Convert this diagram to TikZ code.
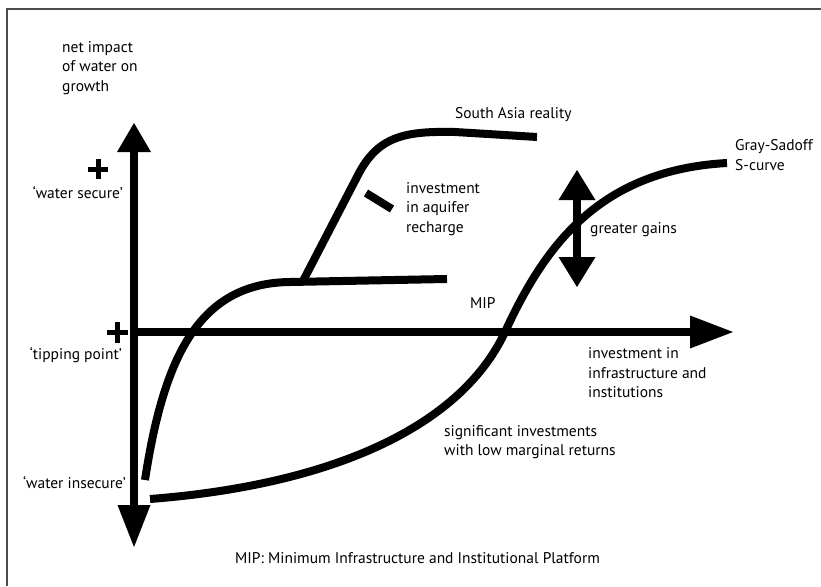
\documentclass[tikz,border=0pt]{standalone}
\usepackage{fontspec}
\setmainfont{PT Sans}
\usetikzlibrary{arrows.meta,positioning}

\tikzset{
  curve/.style={line width=8pt},
  axis/.style={line width=8pt},
  lbl/.style={inner sep=0pt, align=left, font=\fontsize{15.5}{19.5}\selectfont},
  plus/.style={line width=5pt},
}

\begin{document}
\begin{tikzpicture}[x=1pt, y=-1pt]
\useasboundingbox (0,0) rectangle (821,586);
% frame
\draw[line width=1.5pt, black!70] (7,586) -- (7,9) -- (821,9);

% axes
\coordinate (O) at (134,332);
\coordinate (ytop) at (134,123);
\coordinate (ybot) at (134,547);
\coordinate (xend) at (733,332);
\draw[axis, {Triangle[length=42pt,width=33pt,line width=0pt]}-{Triangle[length=29pt,width=34pt,line width=0pt]}] (ybot) -- (ytop);
\draw[axis, -{Triangle[length=43pt,width=33pt,line width=0pt]}] (O) -- (xend);

% plus marks
\draw[plus] (88,169) -- (108,169) (98,159) -- (98,179);
\draw[plus] (107,332) -- (128,332) (117,322) -- (117,343);

% South Asia curve
\coordinate (sa0) at (145,480);
\coordinate (sa1) at (290,282);
\coordinate (sa2) at (447,279);
\draw[curve] (sa0) .. controls (164,355) and (200,283) .. (sa1) -- (sa2);
\coordinate (br0) at (303,281);
\coordinate (br1) at (358,175);
\coordinate (br2) at (455,132);
\coordinate (br3) at (537,137);
\draw[curve] (br0) -- (br1) .. controls (378,136) and (405,131) .. (br2) -- (br3);
\draw[curve] (366,193) -- (392,209);

% Gray-Sadoff S-curve
\coordinate (gs0) at (150,499);
\coordinate (gs1) at (505,332);
\coordinate (gs2) at (727,163);
\draw[curve] (gs0) .. controls (330,485) and (460,428) .. (gs1)
  .. controls (545,245) and (600,170) .. (gs2);

% greater gains arrow
\coordinate (gg1) at (577,170);
\coordinate (gg2) at (577,287);
\draw[axis, {Triangle[length=30pt,width=37pt,line width=0pt]}-{Triangle[length=30pt,width=37pt,line width=0pt]}] (gg2) -- (gg1);

% labels
\node[lbl, anchor=west] (yname) at (62,68) {net impact\\of water on\\growth};
\node[lbl, anchor=east] (secure) at (123,193) {‘water secure’};
\node[lbl, anchor=east] (tipping) at (122,355) {‘tipping point’};
\node[lbl, anchor=east] (insecure) at (126,483) {‘water insecure’};
\node[lbl, anchor=west] (southasia) at (455,115) {South Asia reality};
\node[lbl, anchor=west] (grays) at (735,155) {Gray-Sadoff\\S-curve};
\node[lbl, anchor=west] (aquifer) at (406,209) {investment\\in aquifer\\recharge};
\node[lbl, anchor=west] (gains) at (590,230) {greater gains};
\node[lbl, anchor=west] (mip) at (470,303) {MIP};
\node[lbl, anchor=west] (xname) at (588,373) {investment in\\infrastructure and\\institutions};
\node[lbl, anchor=west] (lowret) at (444,442) {significant investments\\with low marginal returns};
\node[lbl, anchor=west] (note) at (235,558) {MIP: Minimum Infrastructure and Institutional Platform};
\end{tikzpicture}
\end{document}
